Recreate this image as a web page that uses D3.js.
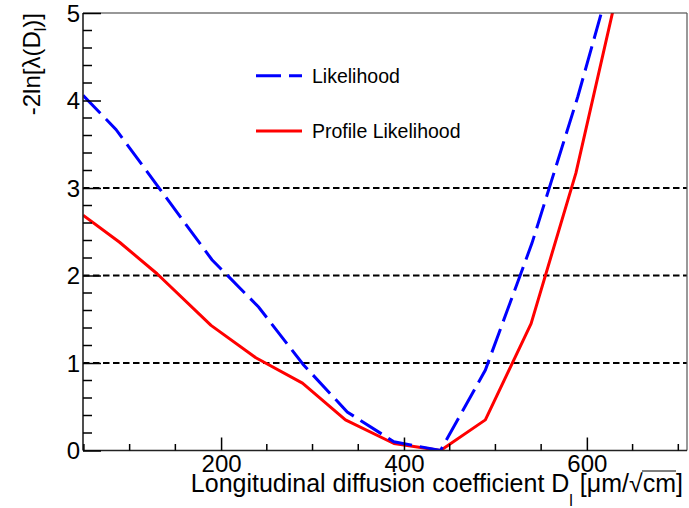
<!DOCTYPE html>
<html>
<head>
<meta charset="utf-8">
<script src="https://cdn.jsdelivr.net/npm/d3@7"></script>
<style>
  html, body { margin: 0; padding: 0; background: #fff; }
  svg { display: block; }
  text { font-family: "Liberation Sans", Arial, Helvetica, sans-serif; fill: #000; }
</style>
</head>
<body>
<svg id="chart" width="689" height="508"></svg>
<script>
// ---------- data ----------
const likelihoodX = [49, 85, 190, 241, 290, 338, 389, 440, 489, 540, 590, 640];
const likelihoodY = [4.06, 3.67, 2.18, 1.64, 0.98, 0.44, 0.10, 0.0, 0.92, 2.37, 4.04, 5.9];
const profileX = [49, 89, 130, 189, 238, 289, 336, 389, 440, 489, 539, 588, 638];
const profileY = [2.69, 2.38, 2.02, 1.43, 1.06, 0.77, 0.35, 0.08, 0.0, 0.35, 1.45, 3.17, 5.46];
const refLevels = [1, 2, 3];
const xTickValues = [200, 400, 600];
const yTickValues = [0, 1, 2, 3, 4, 5];
const legendLabels = ["Likelihood", "Profile Likelihood"];

// ---------- layout ----------
const svg = d3.select("#chart");
const L = 83, R = 687, T = 13, B = 450.5;
const x = d3.scaleLinear().domain([49, 709.5]).range([L, R]);
const y = d3.scaleLinear().domain([0, 5]).range([B, T]);

svg.append("defs").append("clipPath").attr("id", "clip")
  .append("rect").attr("x", L).attr("y", T).attr("width", R - L).attr("height", B - T);

// reference dashed lines
svg.append("g").selectAll("line").data(refLevels).join("line")
  .attr("x1", L).attr("x2", R)
  .attr("y1", d => y(d)).attr("y2", d => y(d))
  .attr("stroke", "#000").attr("stroke-width", 2)
  .attr("stroke-dasharray", "6.5 3.5");

// curves
const line = d3.line().x(d => x(d[0])).y(d => y(d[1]));
const plot = svg.append("g").attr("clip-path", "url(#clip)");
plot.append("path")
  .datum(profileX.map((v, i) => [v, profileY[i]]))
  .attr("d", line).attr("fill", "none")
  .attr("stroke", "#ff0000").attr("stroke-width", 3).attr("stroke-linejoin", "round");
plot.append("path")
  .datum(likelihoodX.map((v, i) => [v, likelihoodY[i]]))
  .attr("d", line).attr("fill", "none")
  .attr("stroke", "#0000ff").attr("stroke-width", 3)
  .attr("stroke-dasharray", "25 8");

// frame
svg.append("line").attr("x1", L).attr("x2", R).attr("y1", T).attr("y2", T)
  .attr("stroke", "#333").attr("stroke-width", 1.2);
svg.append("line").attr("x1", R).attr("x2", R).attr("y1", T).attr("y2", B)
  .attr("stroke", "#555").attr("stroke-width", 1.2);
svg.append("line").attr("x1", L).attr("x2", L).attr("y1", T).attr("y2", B)
  .attr("stroke", "#222").attr("stroke-width", 1.6);
svg.append("line").attr("x1", L).attr("x2", R).attr("y1", B).attr("y2", B)
  .attr("stroke", "#222").attr("stroke-width", 1.6);

// y axis
const yAxis = d3.axisLeft(y).tickValues(yTickValues).tickSize(-18).tickPadding(22).tickFormat(d3.format("d"));
const gy = svg.append("g").attr("transform", `translate(${L},0)`).call(yAxis);
gy.select(".domain").remove();
gy.selectAll(".tick line").attr("stroke", "#000").attr("stroke-width", 1.5);
gy.selectAll(".tick text").attr("font-size", 24).attr("font-family", "Liberation Sans, Arial, sans-serif")
  .attr("x", -3).attr("dy", "0.35em");
const yMinor = d3.range(0, 5.001, 0.2).filter(v => Math.abs(v - Math.round(v)) > 1e-6);
svg.append("g").selectAll("line").data(yMinor).join("line")
  .attr("x1", L).attr("x2", L + 9).attr("y1", d => y(d)).attr("y2", d => y(d))
  .attr("stroke", "#000").attr("stroke-width", 1.5);

// x axis
const xAxis = d3.axisBottom(x).tickValues(xTickValues).tickSize(-13).tickPadding(8).tickFormat(d3.format("d"));
const gx = svg.append("g").attr("transform", `translate(0,${B})`).call(xAxis);
gx.select(".domain").remove();
gx.selectAll(".tick line").attr("stroke", "#000").attr("stroke-width", 1.5);
gx.selectAll(".tick text").attr("font-size", 24).attr("font-family", "Liberation Sans, Arial, sans-serif")
  .attr("y", 21).attr("dy", 0);
const xMinor = d3.range(50, 709, 50).filter(v => v % 200 !== 0);
svg.append("g").selectAll("line").data(xMinor).join("line")
  .attr("x1", d => x(d)).attr("x2", d => x(d)).attr("y1", B).attr("y2", B - 6.5)
  .attr("stroke", "#000").attr("stroke-width", 1.5);

// x title
const xt = svg.append("text").attr("x", 683).attr("y", 492).attr("text-anchor", "end").attr("font-size", 25);
xt.append("tspan").text("Longitudinal diffusion coefficient D");
xt.append("tspan").attr("font-size", 16).attr("dy", 14).text("l");
xt.append("tspan").attr("dy", -14).text(" [μm/");
const sq = xt.append("tspan").text("√");
const cm = xt.append("tspan").text("cm");
xt.append("tspan").text("]");
const sb = sq.node().getBBox(), cb = cm.node().getBBox();
svg.append("line").attr("x1", sb.x + sb.width - 1).attr("x2", cb.x + cb.width)
  .attr("y1", sb.y + 2).attr("y2", sb.y + 2).attr("stroke", "#000").attr("stroke-width", 1.2);

// y title
const yt = svg.append("text").attr("transform", `translate(40,${T}) rotate(-90)`)
  .attr("text-anchor", "end").attr("font-size", 24);
yt.append("tspan").text("-2ln[λ(D");
yt.append("tspan").attr("font-size", 16).attr("dy", 6).text("l");
yt.append("tspan").attr("dy", -6).text(")]");

// legend
const lg = svg.append("g");
const legY = [75.7, 131];
lg.append("line").attr("x1", 256).attr("x2", 302).attr("y1", legY[0]).attr("y2", legY[0])
  .attr("stroke", "#0000ff").attr("stroke-width", 3).attr("stroke-dasharray", "25 8");
lg.append("line").attr("x1", 256).attr("x2", 302).attr("y1", legY[1]).attr("y2", legY[1])
  .attr("stroke", "#ff0000").attr("stroke-width", 3);
lg.selectAll("text").data(legendLabels).join("text")
  .attr("x", 312).attr("y", (d, i) => legY[i]).attr("dy", "0.36em")
  .attr("font-size", 19.5).text(d => d);
</script>
</body>
</html>
